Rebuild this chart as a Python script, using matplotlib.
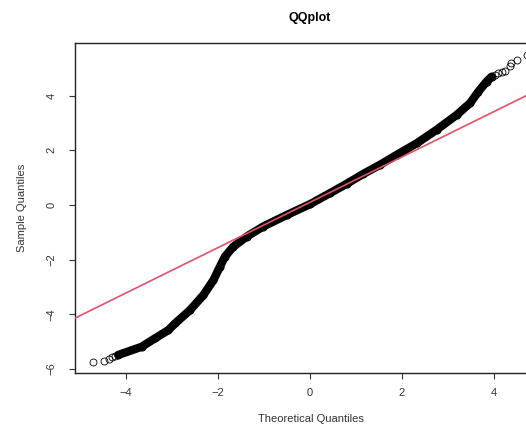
import matplotlib
matplotlib.use("Agg")
import matplotlib.pyplot as plt

# points (theoretical, sample) along the dense band
band_x = [-4.17, -3.66, -3.37, -3.08, -2.93, -2.61, -2.32, -2.10, -1.96, -1.85,
          -1.67, -1.38, -1.02, -0.51, 0.00, 0.43, 0.80, 1.16, 1.52, 1.88, 2.32,
          2.75, 3.19, 3.48, 3.66, 3.84, 3.95]
band_y = [-5.49, -5.19, -4.88, -4.58, -4.33, -3.85, -3.30, -2.75, -2.26, -1.89,
          -1.53, -1.16, -0.79, -0.37, 0.03, 0.43, 0.78, 1.14, 1.47, 1.83, 2.26,
          2.75, 3.30, 3.73, 4.15, 4.52, 4.70]

# sparse tail points
tail_x = [-4.71, -4.49, -4.38, -4.31, -4.25, 4.02, 4.08, 4.17, 4.24, 4.35, 4.38, 4.49, 4.71]
tail_y = [-5.76, -5.70, -5.64, -5.58, -5.54, 4.76, 4.82, 4.88, 4.92, 5.07, 5.21, 5.29, 5.49]

# qqline
line_intercept = 0.10
line_slope = 0.83

x_ticks = [-4, -2, 0, 2, 4]
y_ticks = [-6, -4, -2, 0, 2, 4]

plt.rcParams['font.family'] = ['Liberation Sans', 'DejaVu Sans']

fig = plt.figure(figsize=(5.26, 4.30), dpi=100)
ax = fig.add_axes([0.1426, 0.1326, 0.8954, 0.7674])

ax.plot(band_x, band_y, color='black', lw=6, solid_capstyle='round',
        solid_joinstyle='round', zorder=2)
ax.plot(band_x, band_y, 'o', mfc='none', mec='black', ms=5, mew=0.8, zorder=2)
ax.plot(tail_x, tail_y, 'o', mfc='none', mec='black', ms=5, mew=0.6, zorder=2)
ax.axline((0, line_intercept), slope=line_slope, color='#df536b', lw=1.2, zorder=3)

ax.set_xlim(-5.11, 5.13)
ax.set_ylim(-6.15, 5.93)
ax.set_xticks(x_ticks)
ax.set_yticks(y_ticks)
ax.set_xticklabels([str(v).replace('-', '\u2212') for v in x_ticks])
ax.set_yticklabels([str(v).replace('-', '\u2212') for v in y_ticks],
                   rotation=90, va='center')
ax.tick_params(axis='both', direction='out', length=4.5, width=0.8,
               labelsize=8, colors='#333333')
ax.tick_params(axis='x', pad=6)
ax.tick_params(axis='y', pad=9)

for s in ax.spines.values():
    s.set_linewidth(1.0)
    s.set_color('#222222')

ax.set_xlabel("Theoretical Quantiles", fontsize=8, labelpad=12, color='#333333')
ax.set_ylabel("Sample Quantiles", fontsize=8, labelpad=14, color='#333333')
fig.text(0.589, 0.958, "QQplot", ha='center', va='center', fontsize=9,
         fontweight='bold')

fig.savefig("out.png", dpi=100)
